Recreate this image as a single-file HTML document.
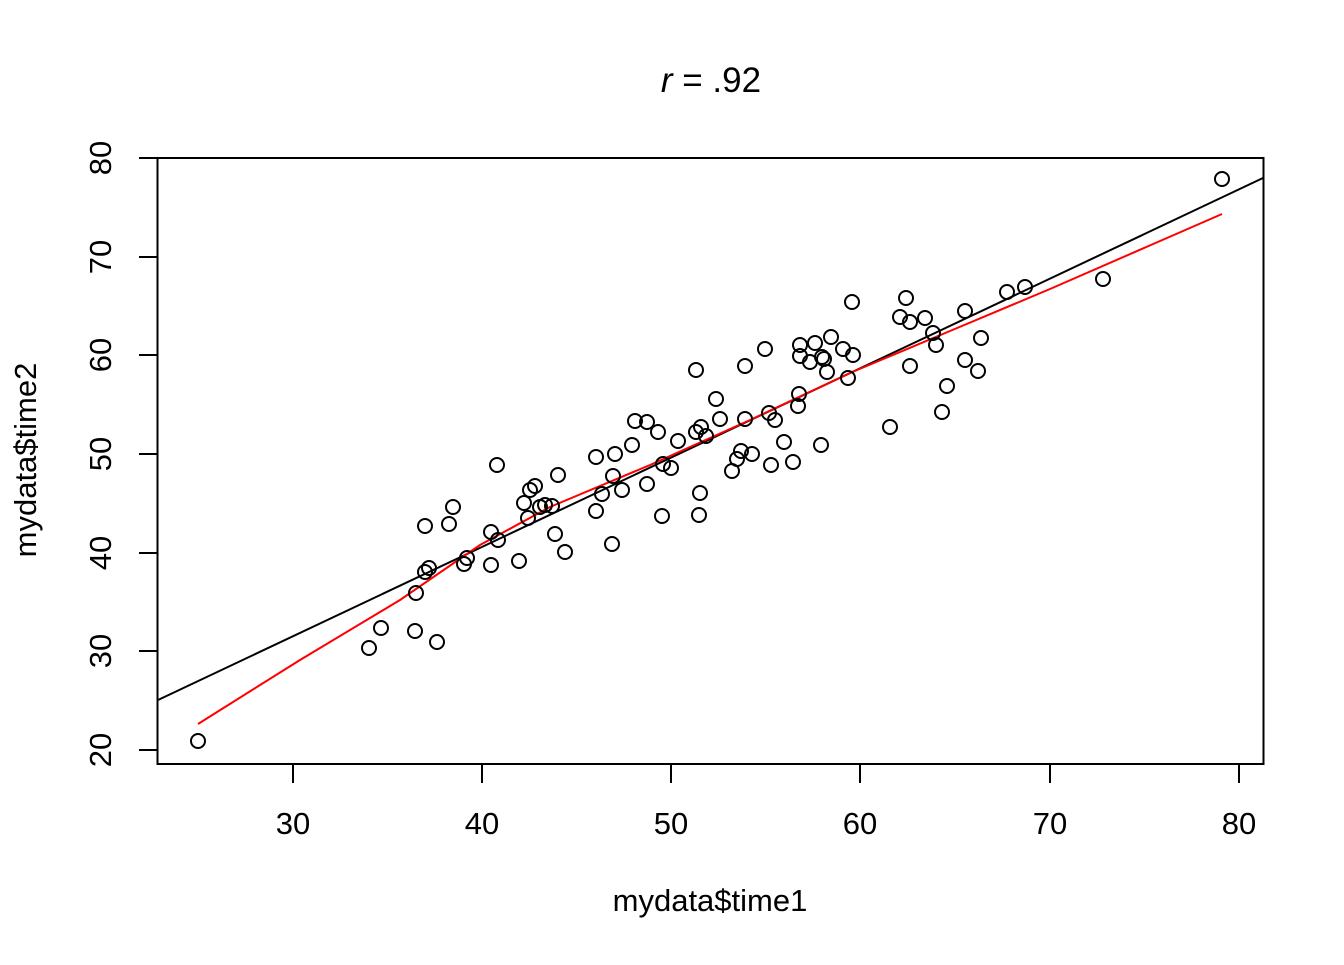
<!DOCTYPE html>
<html><head><meta charset="utf-8"><style>body{margin:0;background:#fff}</style></head><body>
<svg width="1344" height="960" xmlns="http://www.w3.org/2000/svg" font-family="Liberation Sans, sans-serif">
<rect x="157.5" y="158" width="1106" height="606" fill="none" stroke="#000" stroke-width="2"/>
<g stroke="#000" stroke-width="2">
<line x1="293" y1="764" x2="293" y2="783"/><line x1="482" y1="764" x2="482" y2="783"/><line x1="671" y1="764" x2="671" y2="783"/><line x1="860" y1="764" x2="860" y2="783"/><line x1="1050" y1="764" x2="1050" y2="783"/><line x1="1239" y1="764" x2="1239" y2="783"/>
<line x1="157" y1="750" x2="139" y2="750"/><line x1="157" y1="651" x2="139" y2="651"/><line x1="157" y1="553" x2="139" y2="553"/><line x1="157" y1="454" x2="139" y2="454"/><line x1="157" y1="355" x2="139" y2="355"/><line x1="157" y1="257" x2="139" y2="257"/><line x1="157" y1="158" x2="139" y2="158"/>
</g>
<g font-size="31" text-anchor="middle">
<text x="293" y="834">30</text><text x="482" y="834">40</text><text x="671" y="834">50</text><text x="860" y="834">60</text><text x="1050" y="834">70</text><text x="1239" y="834">80</text>
<text transform="translate(111,750) rotate(-90)">20</text><text transform="translate(111,651) rotate(-90)">30</text><text transform="translate(111,553) rotate(-90)">40</text><text transform="translate(111,454) rotate(-90)">50</text><text transform="translate(111,355) rotate(-90)">60</text><text transform="translate(111,257) rotate(-90)">70</text><text transform="translate(111,158) rotate(-90)">80</text>
<text x="710" y="911">mydata$time1</text>
<text transform="translate(36,460) rotate(-90)">mydata$time2</text>
<text x="711" y="92" font-size="35"><tspan font-style="italic">r</tspan> = .92</text>
</g>
<line x1="158" y1="700" x2="1263" y2="178" stroke="#000" stroke-width="2"/>
<polyline fill="none" stroke="#f00" stroke-width="2" points="198,724 300,660 400,600 480,545 550,507 650,465 750,420 850,373 950,331 1050,289 1222,214"/>
<g fill="none" stroke="#000" stroke-width="2">
<circle cx="198" cy="741" r="7"/><circle cx="369" cy="648" r="7"/><circle cx="381" cy="628" r="7"/><circle cx="415" cy="631" r="7"/><circle cx="437" cy="642" r="7"/><circle cx="416" cy="593" r="7"/><circle cx="425" cy="572" r="7"/><circle cx="429" cy="568" r="7"/><circle cx="425" cy="526" r="7"/><circle cx="449" cy="524" r="7"/><circle cx="453" cy="507" r="7"/><circle cx="464" cy="564" r="7"/><circle cx="467" cy="558" r="7"/><circle cx="491" cy="532" r="7"/><circle cx="491" cy="565" r="7"/><circle cx="497" cy="465" r="7"/><circle cx="498" cy="540" r="7"/><circle cx="519" cy="561" r="7"/><circle cx="524" cy="503" r="7"/><circle cx="528" cy="518" r="7"/><circle cx="530" cy="490" r="7"/><circle cx="535" cy="486" r="7"/><circle cx="540" cy="507" r="7"/><circle cx="545" cy="505" r="7"/><circle cx="552" cy="506" r="7"/><circle cx="555" cy="534" r="7"/><circle cx="558" cy="475" r="7"/><circle cx="565" cy="552" r="7"/><circle cx="596" cy="457" r="7"/><circle cx="596" cy="511" r="7"/><circle cx="602" cy="494" r="7"/><circle cx="612" cy="544" r="7"/><circle cx="613" cy="476" r="7"/><circle cx="615" cy="454" r="7"/><circle cx="622" cy="490" r="7"/><circle cx="632" cy="445" r="7"/><circle cx="635" cy="421" r="7"/><circle cx="647" cy="422" r="7"/><circle cx="647" cy="484" r="7"/><circle cx="658" cy="432" r="7"/><circle cx="662" cy="516" r="7"/><circle cx="663" cy="464" r="7"/><circle cx="671" cy="468" r="7"/><circle cx="678" cy="441" r="7"/><circle cx="696" cy="370" r="7"/><circle cx="696" cy="432" r="7"/><circle cx="701" cy="427" r="7"/><circle cx="700" cy="493" r="7"/><circle cx="699" cy="515" r="7"/><circle cx="706" cy="436" r="7"/><circle cx="716" cy="399" r="7"/><circle cx="720" cy="419" r="7"/><circle cx="732" cy="471" r="7"/><circle cx="737" cy="459" r="7"/><circle cx="741" cy="451" r="7"/><circle cx="745" cy="366" r="7"/><circle cx="745" cy="419" r="7"/><circle cx="752" cy="454" r="7"/><circle cx="765" cy="349" r="7"/><circle cx="769" cy="413" r="7"/><circle cx="771" cy="465" r="7"/><circle cx="775" cy="420" r="7"/><circle cx="784" cy="442" r="7"/><circle cx="793" cy="462" r="7"/><circle cx="798" cy="406" r="7"/><circle cx="799" cy="394" r="7"/><circle cx="800" cy="345" r="7"/><circle cx="800" cy="356" r="7"/><circle cx="810" cy="362" r="7"/><circle cx="815" cy="343" r="7"/><circle cx="822" cy="357" r="7"/><circle cx="824" cy="359" r="7"/><circle cx="821" cy="445" r="7"/><circle cx="827" cy="372" r="7"/><circle cx="831" cy="337" r="7"/><circle cx="843" cy="349" r="7"/><circle cx="848" cy="378" r="7"/><circle cx="852" cy="302" r="7"/><circle cx="853" cy="355" r="7"/><circle cx="890" cy="427" r="7"/><circle cx="900" cy="317" r="7"/><circle cx="906" cy="298" r="7"/><circle cx="910" cy="322" r="7"/><circle cx="910" cy="366" r="7"/><circle cx="925" cy="318" r="7"/><circle cx="933" cy="333" r="7"/><circle cx="936" cy="345" r="7"/><circle cx="942" cy="412" r="7"/><circle cx="947" cy="386" r="7"/><circle cx="965" cy="311" r="7"/><circle cx="965" cy="360" r="7"/><circle cx="978" cy="371" r="7"/><circle cx="981" cy="338" r="7"/><circle cx="1007" cy="292" r="7"/><circle cx="1025" cy="287" r="7"/><circle cx="1103" cy="279" r="7"/><circle cx="1222" cy="179" r="7"/>
</g>
</svg>
</body></html>
